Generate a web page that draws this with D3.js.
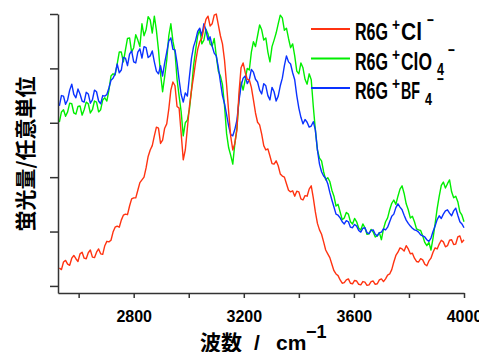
<!DOCTYPE html>
<html>
<head>
<meta charset="utf-8">
<script src="https://cdn.jsdelivr.net/npm/d3@7"></script>
<style>
  html, body { margin: 0; padding: 0; background: #fff; }
  svg { display: block; }
</style>
</head>
<body>
<svg id="chart" width="479" height="352"></svg>
<script>
// ---- data (wavenumber in cm^-1, fluorescence intensity in arbitrary units) ----
const wavenumbers = [2530,2537.5,2545,2552.5,2560,2567.5,2575,2582.5,2590,2597.5,2605,2612.5,2620,2627.5,2635,2642.5,2650,2657.5,2665,2672.5,2680,2687.5,2695,2702.5,2710,2717.5,2725,2732.5,2740,2747.5,2755,2762.5,2770,2777.5,2785,2792.5,2800,2807.5,2815,2822.5,2830,2837.5,2845,2852.5,2860,2867.5,2875,2882.5,2890,2897.5,2905,2912.5,2920,2927.5,2935,2942.5,2950,2957.5,2965,2972.5,2980,2987.5,2995,3002.5,3010,3017.5,3025,3032.5,3040,3047.5,3055,3062.5,3070,3077.5,3085,3092.5,3100,3107.5,3115,3122.5,3130,3137.5,3145,3152.5,3160,3167.5,3175,3182.5,3190,3197.5,3205,3212.5,3220,3227.5,3235,3242.5,3250,3257.5,3265,3272.5,3280,3287.5,3295,3302.5,3310,3317.5,3325,3332.5,3340,3347.5,3355,3362.5,3370,3377.5,3385,3392.5,3400,3407.5,3415,3422.5,3430,3437.5,3445,3452.5,3460,3467.5,3475,3482.5,3490,3497.5,3505,3512.5,3520,3527.5,3535,3542.5,3550,3557.5,3565,3572.5,3580,3587.5,3595,3602.5,3610,3617.5,3625,3632.5,3640,3647.5,3655,3662.5,3670,3677.5,3685,3692.5,3700,3707.5,3715,3722.5,3730,3737.5,3745,3752.5,3760,3767.5,3775,3782.5,3790,3797.5,3805,3812.5,3820,3827.5,3835,3842.5,3850,3857.5,3865,3872.5,3880,3887.5,3895,3902.5,3910,3917.5,3925,3932.5,3940,3947.5,3955,3962.5,3970,3977.5,3985,3992.5,4000];
const seriesCl = [0.33,0.30,0.44,0.47,0.40,0.38,0.51,0.56,0.50,0.45,0.59,0.62,0.51,0.50,0.61,0.66,0.53,0.52,0.62,0.68,0.59,0.58,0.74,0.82,0.81,0.84,0.99,1.08,1.10,1.08,1.21,1.30,1.32,1.31,1.47,1.60,1.62,1.62,1.76,1.90,1.95,2.00,2.17,2.38,2.50,2.58,2.76,2.92,2.90,2.62,2.68,2.90,2.98,3.25,3.60,3.75,3.68,3.30,3.27,2.80,2.32,2.50,2.90,3.30,3.60,3.85,4.12,4.35,4.49,4.55,4.74,4.90,4.96,4.78,4.82,4.98,5.00,4.80,4.60,4.45,4.15,3.70,3.20,2.75,2.50,2.62,2.87,3.55,4.01,4.10,3.93,3.80,3.79,3.65,3.42,3.18,3.01,2.96,2.79,2.58,2.50,2.52,2.39,2.25,2.24,2.30,2.21,2.06,2.02,2.00,1.88,1.76,1.73,1.75,1.65,1.74,1.73,1.60,1.58,1.66,1.65,1.78,1.84,1.62,1.36,1.15,1.03,0.95,0.81,0.66,0.59,0.52,0.40,0.28,0.22,0.19,0.11,0.05,0.06,0.11,0.13,0.05,0.04,0.10,0.09,0.03,0.02,0.08,0.07,0.01,0.02,0.08,0.09,0.03,0.04,0.11,0.13,0.08,0.13,0.20,0.22,0.30,0.44,0.56,0.62,0.70,0.68,0.64,0.74,0.68,0.59,0.60,0.51,0.45,0.44,0.50,0.48,0.40,0.37,0.46,0.51,0.62,0.70,0.68,0.77,0.84,0.81,0.72,0.74,0.84,0.85,0.76,0.77,0.90,0.92,0.80,0.85];
const seriesClO4 = [3.01,3.20,3.24,3.12,3.20,3.36,3.35,3.18,3.16,3.30,3.31,3.14,3.24,3.38,3.35,3.18,3.24,3.40,3.38,3.20,3.24,3.42,3.46,3.40,3.60,3.86,3.90,3.88,4.08,4.30,4.30,4.12,4.34,4.55,4.56,4.30,4.38,4.62,4.52,4.40,4.82,4.60,4.71,4.95,4.89,4.65,4.96,4.70,4.34,3.90,3.57,3.85,4.15,4.60,4.82,4.50,4.30,3.80,3.49,3.20,2.76,3.00,3.05,3.25,3.60,4.05,4.34,4.60,4.71,4.45,4.52,4.72,4.63,4.45,4.41,4.55,4.23,3.95,3.86,3.70,3.31,2.80,2.54,2.40,2.24,2.62,2.90,3.45,3.75,3.60,3.79,4.00,3.97,4.30,4.49,4.40,4.60,4.80,4.71,4.52,4.56,4.30,4.12,4.40,4.52,4.65,4.82,4.98,4.93,4.70,4.74,4.55,4.38,4.45,4.23,3.95,3.90,4.10,4.01,3.80,3.71,3.90,3.79,3.30,2.87,2.50,2.35,2.30,2.10,1.95,1.99,1.92,1.76,1.65,1.47,1.50,1.36,1.22,1.25,1.35,1.32,1.18,1.14,1.24,1.18,1.06,1.03,1.14,1.07,0.95,0.96,1.04,0.99,0.90,0.92,0.98,0.85,1.05,1.18,1.25,1.40,1.52,1.58,1.50,1.65,1.78,1.84,1.70,1.51,1.40,1.25,1.28,1.18,1.05,1.03,1.02,0.92,0.80,0.74,0.80,0.66,0.88,1.14,1.42,1.65,1.85,1.91,1.80,1.88,1.95,1.73,1.62,1.65,1.55,1.36,1.30,1.18];
const seriesBF4 = [3.31,3.50,3.49,3.34,3.42,3.60,3.71,3.52,3.46,3.62,3.53,3.40,3.38,3.56,3.53,3.36,3.42,3.60,3.57,3.40,3.35,3.50,3.49,3.52,3.64,3.78,3.82,3.90,4.08,3.92,3.97,4.20,4.19,4.05,4.26,4.32,4.12,4.10,4.30,4.36,4.19,4.40,4.38,4.20,4.23,4.32,4.12,3.95,3.90,4.05,3.86,4.10,4.30,4.50,4.56,4.35,4.34,4.10,3.79,3.52,3.38,3.55,3.49,3.85,4.19,4.40,4.52,4.68,4.74,4.60,4.82,4.70,4.52,4.58,4.41,4.28,4.23,4.02,3.75,3.50,3.35,3.15,2.94,2.78,2.76,2.88,3.05,3.40,3.68,3.82,3.86,3.72,3.79,3.98,3.93,3.80,3.75,3.60,3.53,3.72,3.68,3.50,3.42,3.65,3.57,3.40,3.49,3.68,3.82,4.05,4.23,4.12,4.08,3.92,3.79,3.50,3.27,3.10,2.98,3.06,3.01,2.92,2.94,3.02,2.87,2.50,2.24,2.10,2.02,1.98,1.88,1.72,1.58,1.45,1.32,1.30,1.25,1.18,1.14,1.20,1.18,1.08,1.07,1.13,1.10,1.02,0.99,1.06,1.07,0.98,0.96,1.02,1.03,0.95,0.92,0.98,0.99,1.05,1.03,1.08,1.18,1.28,1.32,1.44,1.51,1.45,1.40,1.30,1.21,1.15,1.10,1.06,1.03,1.02,0.99,0.94,0.92,0.90,0.85,0.82,0.88,1.00,1.10,1.22,1.29,1.24,1.32,1.38,1.40,1.34,1.29,1.38,1.43,1.30,1.18,1.14,1.07];
const xTickValues = [2600,2800,3000,3200,3400,3600,3800,4000];
const xTickLabels = [2800,3200,3600,4000];
const yTickValues = [0,1,2,3,4,5];

const svg = d3.select("#chart");
const x = d3.scaleLinear().domain([2525, 4000]).range([58, 464]);
const y = d3.scaleLinear().domain([-0.13, 5]).range([293, 14]);

const latin = "'Liberation Sans', Arial, sans-serif";
const cjk = "'Noto Sans CJK JP', 'Noto Sans CJK SC', sans-serif";
const colors = {Cl: "#ff3311", ClO4: "#00ee00", BF4: "#0a32ff"};

// series (drawn green, blue, red)
const series = [
  {values: seriesClO4, color: colors.ClO4},
  {values: seriesBF4, color: colors.BF4},
  {values: seriesCl, color: colors.Cl}
];
const line = d3.line()
  .defined((d, i) => i < wavenumbers.length && d != null)
  .x((d, i) => x(wavenumbers[i])).y(d => y(d));
svg.append("g").selectAll("path").data(series).join("path")
  .attr("d", s => line(s.values))
  .attr("fill", "none")
  .attr("stroke", s => s.color)
  .attr("stroke-width", 1.4)
  .attr("stroke-linejoin", "round");

// axes
const xAxis = d3.axisBottom(x).tickValues(xTickValues).tickSize(5).tickSizeOuter(0).tickPadding(13)
  .tickFormat(d => xTickLabels.includes(d) ? String(d) : "");
const gx = svg.append("g").attr("transform", "translate(0,293)").call(xAxis);
gx.selectAll("text").attr("font-family", latin).attr("font-size", 16).attr("font-weight", "bold").attr("fill", "#000");

const yAxis = d3.axisLeft(y).tickValues(yTickValues).tickSize(8).tickSizeOuter(0).tickFormat("");
const gy = svg.append("g").attr("transform", "translate(58,0)").call(yAxis);
[gx, gy].forEach(g => {
  g.select(".domain").attr("stroke", "#333").attr("stroke-width", 1.5);
  g.selectAll(".tick line").attr("stroke", "#333").attr("stroke-width", 1.5);
});

// axis titles
const xt = svg.append("text").attr("x", 200).attr("y", 350)
  .attr("font-family", cjk).attr("font-weight", "bold").attr("font-size", 21).attr("fill", "#000");
xt.append("tspan").text("波数");
xt.append("tspan").attr("x", 254).attr("font-family", latin).text("/");
xt.append("tspan").attr("x", 276).attr("font-family", latin).text("cm");
xt.append("tspan").attr("x", 306).attr("dy", -12).attr("font-family", latin).attr("font-size", 18).text("−1");

svg.append("text")
  .attr("transform", "translate(24,154) rotate(-90)")
  .attr("text-anchor", "middle").attr("dominant-baseline", "central")
  .attr("font-family", cjk).attr("font-weight", "bold").attr("font-size", 21).attr("fill", "#000")
  .text("蛍光量/任意単位");

// legend: condensed pieces (main text, superscripts, subscripts), each squeezed to its width
const legendLayout = [
  {color: colors.Cl, parts: [
    {t: "R6G", x: 355, w: 33, dy: 0, fs: 23}, {t: "+", x: 392, w: 8, dy: -10, fs: 17},
    {t: "Cl", x: 401, w: 21, dy: 0, fs: 23}, {t: "−", x: 427, w: 7, dy: -14, fs: 17}]},
  {color: colors.ClO4, parts: [
    {t: "R6G", x: 355, w: 33, dy: 0, fs: 23}, {t: "+", x: 392, w: 8, dy: -10, fs: 17},
    {t: "ClO", x: 401, w: 31, dy: 0, fs: 23}, {t: "4", x: 437, w: 7, dy: 5, fs: 17},
    {t: "−", x: 448, w: 7, dy: -14, fs: 17}]},
  {color: colors.BF4, parts: [
    {t: "R6G", x: 355, w: 33, dy: 0, fs: 23}, {t: "+", x: 392, w: 8, dy: -10, fs: 17},
    {t: "BF", x: 401, w: 19, dy: 0, fs: 23}, {t: "4", x: 425, w: 7, dy: 6, fs: 17},
    {t: "−", x: 437, w: 7, dy: -14, fs: 17}]}
];
const lg = svg.append("g");
legendLayout.forEach((it, i) => {
  const cy = 29 + i * 29.5;
  lg.append("line").attr("x1", 311).attr("x2", 350).attr("y1", cy).attr("y2", cy)
    .attr("stroke", it.color).attr("stroke-width", 2.2);
  it.parts.forEach(p => {
    const g = lg.append("g");
    const t = g.append("text").attr("x", 0).attr("y", 0)
      .attr("font-family", latin).attr("font-weight", "bold").attr("font-size", p.fs)
      .attr("fill", "#000").text(p.t);
    const natural = t.node().getComputedTextLength() || p.w;
    g.attr("transform", `translate(${p.x},${cy + 11 + p.dy}) scale(${p.w / natural},1)`);
  });
});
</script>
</body>
</html>
